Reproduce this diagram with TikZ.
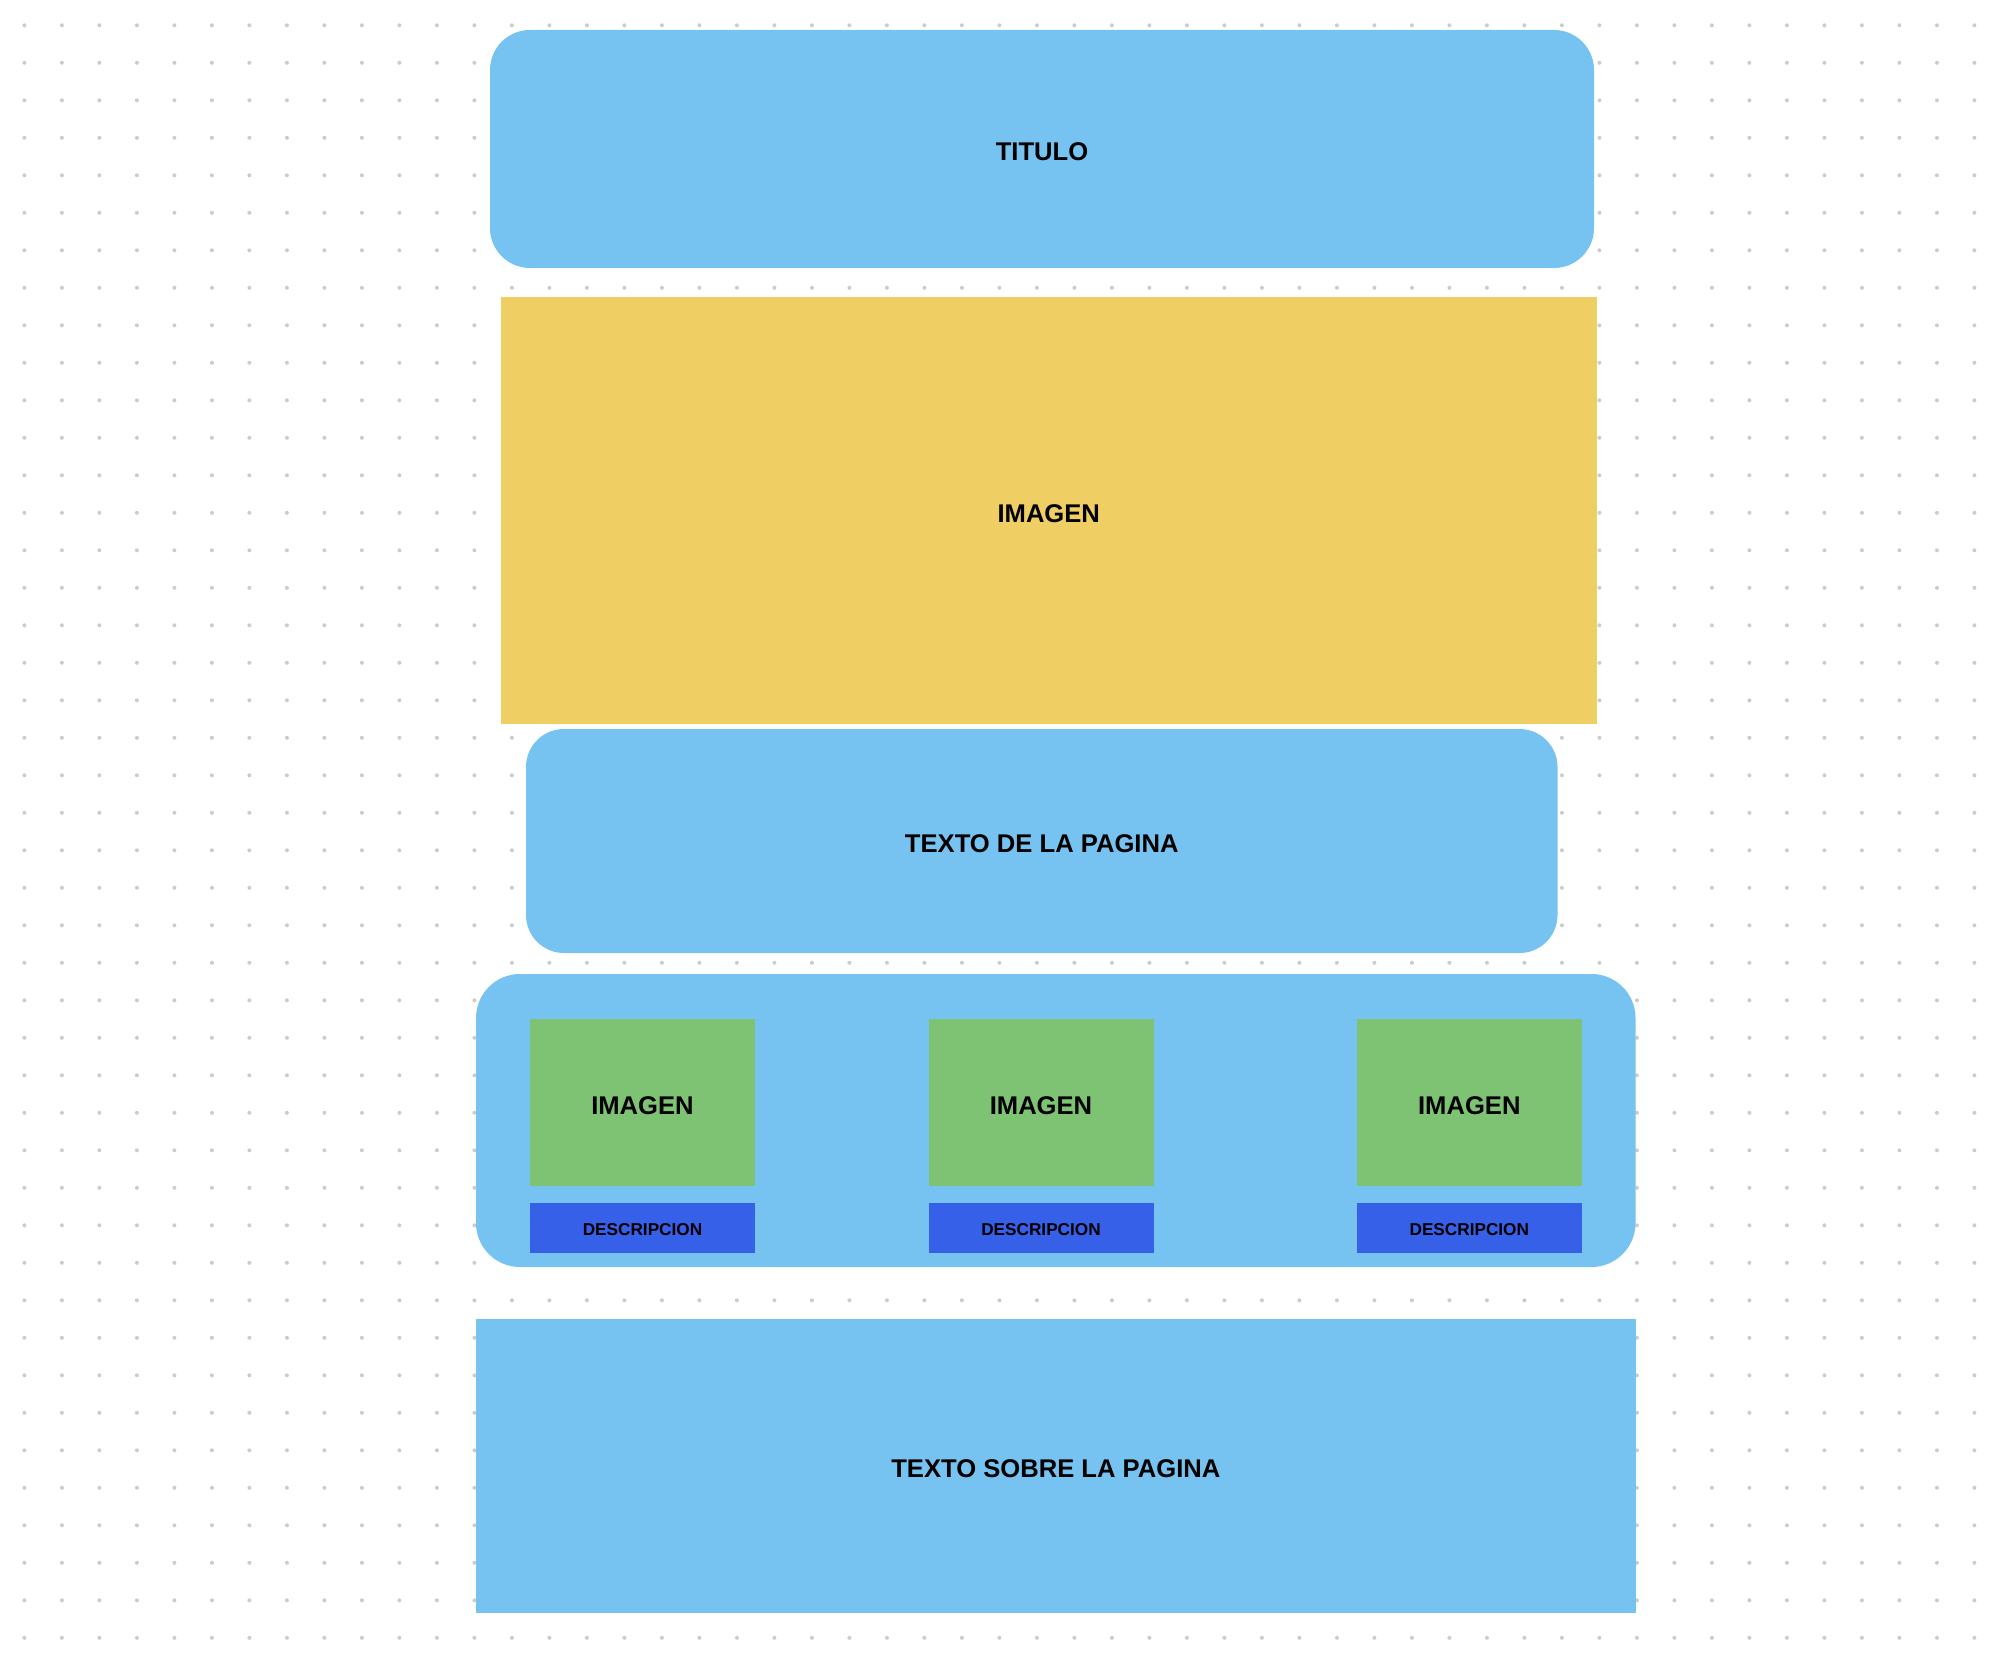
\documentclass[tikz,border=0pt]{standalone}
\usepackage{fontspec}
\setmainfont{Liberation Sans}
\definecolor{paneblue}{RGB}{118,194,240}
\definecolor{heroyellow}{RGB}{239,206,99}
\definecolor{thumbgreen}{RGB}{126,195,115}
\definecolor{captionblue}{RGB}{55,96,232}
\definecolor{dotgray}{RGB}{204,204,204}
\tikzset{
  block/.style={inner sep=0pt, outer sep=0pt, draw=none, text=black,
    font=\fontsize{12.8}{15}\selectfont\bfseries, align=center,
    text height=11.7pt, text depth=0pt},
  roundpane/.style={block, fill=paneblue, rounded corners=20pt},
  flatpane/.style={block, fill=paneblue},
  hero/.style={block, fill=heroyellow},
  thumb/.style={block, fill=thumbgreen, minimum width=112.5pt, minimum height=83.2pt},
  caption/.style={block, fill=captionblue, minimum width=112.5pt, minimum height=24.85pt,
    font=\fontsize{8.6}{10}\selectfont\bfseries, text height=7.3pt, text depth=0pt},
}
\begin{document}
\begin{tikzpicture}[x=0.5pt, y=-0.5pt]
  % canvas
  \fill[white] (0,0) rectangle (1992,1658);
  \useasboundingbox (0,0) rectangle (1992,1658);
  % dotted grid
  \foreach \i in {0,...,52}{
    \foreach \j in {0,...,43}{
      \fill[dotgray] (24.4+37.5*\i, 25.3+37.5*\j) circle (1pt);
    }
  }
  % page sections
  \node[roundpane, minimum width=552pt, minimum height=119pt] (title) at (1042,149) {TITULO};
  \node[hero, minimum width=548.25pt, minimum height=213.5pt] (image) at (1048.75,510.5) {IMAGEN};
  \node[roundpane, minimum width=515.75pt, minimum height=112pt, rounded corners=19pt] (pagetext) at (1041.75,841) {TEXTO DE LA PAGINA};
  \node[roundpane, minimum width=579.75pt, minimum height=146.5pt, rounded corners=22pt] (gallery) at (1055.75,1120.5) {};
  % gallery items
  \node[thumb] (img1) at (642.5,1102.5) {IMAGEN};
  \node[thumb] (img2) at (1041,1102.5) {IMAGEN};
  \node[thumb] (img3) at (1469.3,1102.5) {IMAGEN};
  \node[caption] (cap1) at (642.5,1227.9) {DESCRIPCION};
  \node[caption] (cap2) at (1041,1227.9) {DESCRIPCION};
  \node[caption] (cap3) at (1469.3,1227.9) {DESCRIPCION};
  % footer text
  \node[flatpane, minimum width=579.85pt, minimum height=146.85pt] (about) at (1055.85,1465.85) {TEXTO SOBRE LA PAGINA};
\end{tikzpicture}
\end{document}
